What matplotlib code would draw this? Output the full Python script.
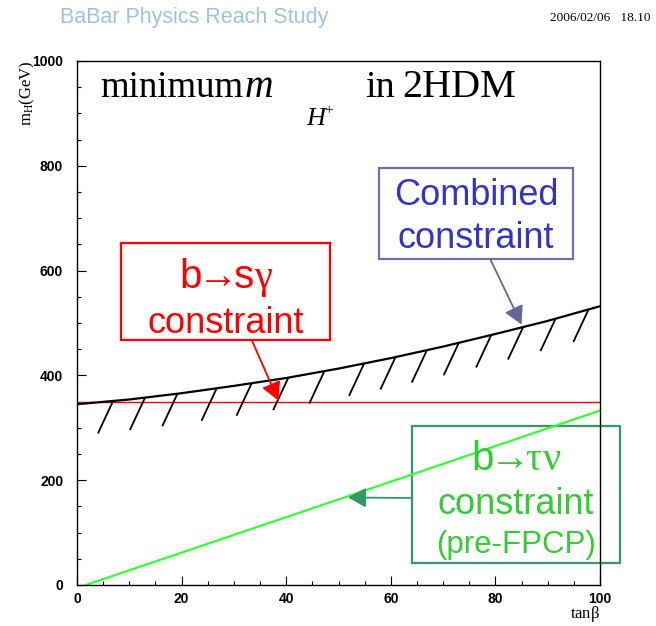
#!/usr/bin/env python3
"""Minimum charged Higgs mass in the 2HDM versus tan(beta)."""

import matplotlib

matplotlib.use("Agg")
import matplotlib.pyplot as plt
import numpy as np
from matplotlib.patches import Rectangle
from matplotlib.ticker import MultipleLocator

plt.rcParams["mathtext.fontset"] = "custom"
plt.rcParams["mathtext.rm"] = "Liberation Serif"
plt.rcParams["mathtext.it"] = "Liberation Serif:italic"
plt.rcParams["mathtext.bf"] = "Liberation Serif:bold"
plt.rcParams["mathtext.sf"] = "Liberation Sans"

# combined lower bound on m_H+ (GeV) vs tan(beta)
COMB_TANB = [0, 10, 20, 30, 40, 50, 60, 70, 80, 90, 100]
COMB_MH = [345, 354, 366, 380, 395, 413, 433, 455, 479, 504, 532]

# b -> s gamma bound (flat)
BSG_TANB = [0, 100]
BSG_MH = [350, 350]

# b -> tau nu bound
BTN_TANB = [1.7, 52, 100]
BTN_MH = [0, 170, 333]

# where the excluded-side hatch marks sit along the combined curve
HATCH_TANB = [6.9, 13.0, 19.2, 26.7, 33.4, 40.4, 47.3, 54.9, 60.9,
              66.9, 73.0, 79.2, 85.3, 91.5, 97.8]

XTICKS = [0, 20, 40, 60, 80, 100]
YTICKS = [0, 200, 400, 600, 800, 1000]

RED = "#ff0000"
BLUE_TXT = "#3333cc"
BLUE_BOX = "#7070a8"
BLUE_ARR = "#666699"
GREEN_TXT = "#33cc33"
GREEN_BOX = "#339966"
GREEN_LINE = "#33ff33"

SERIF = "Liberation Serif"
SANS = "Liberation Sans"

fig = plt.figure(figsize=(6.56, 6.26), dpi=100)
ax = fig.add_axes([0.1174, 0.0655, 0.7973, 0.8371])

ax.plot(BSG_TANB, BSG_MH, color=RED, lw=1.0)
ax.plot(BTN_TANB, BTN_MH, color=GREEN_LINE, lw=1.6)
ax.plot(COMB_TANB, COMB_MH, color="black", lw=1.6)

# short slanted strokes below the combined curve
hatch_top = np.interp(HATCH_TANB, COMB_TANB, COMB_MH)
for t, m in zip(HATCH_TANB, hatch_top):
    ax.plot([t, t - 2.9], [m, m - 62], color="black", lw=1.3,
            solid_capstyle="butt")

ax.set_xlim(0, 100)
ax.set_ylim(0, 1000)
ax.set_xticks(XTICKS)
ax.set_yticks(YTICKS)
ax.xaxis.set_minor_locator(MultipleLocator(5))
ax.yaxis.set_minor_locator(MultipleLocator(50))
ax.tick_params(which="both", direction="in", top=False, right=False, width=0.8)
ax.tick_params(which="major", length=6.5)
ax.tick_params(which="minor", length=3.2)
ax.tick_params(axis="x", pad=5)
ax.tick_params(axis="y", pad=10)
for lab in ax.get_xticklabels() + ax.get_yticklabels():
    lab.set_fontfamily(SANS)
    lab.set_fontweight("bold")
    lab.set_fontsize(10)
for sp in ax.spines.values():
    sp.set_linewidth(1.0)

# title, pieced together ROOT-latex style (m with a low H+ subscript)
title_y = 0.932
ax.text(0.044, title_y, "minimum", transform=ax.transAxes, fontfamily=SERIF,
        fontsize=26.5, va="baseline", ha="left")
ax.text(0.320, title_y, "m", transform=ax.transAxes, fontfamily=SERIF,
        fontstyle="italic", fontsize=28.5, va="baseline", ha="left")
ax.text(0.438, 0.877, "H", transform=ax.transAxes, fontfamily=SERIF,
        fontstyle="italic", fontsize=19, va="baseline", ha="left")
ax.text(0.481, 0.905, "+", transform=ax.transAxes, fontfamily=SERIF,
        fontsize=11, va="center", ha="center")
ax.text(0.5507, title_y, "in", transform=ax.transAxes, fontfamily=SERIF,
        fontsize=27.5, va="baseline", ha="left")
ax.text(0.621, title_y, "2HDM", transform=ax.transAxes, fontfamily=SERIF,
        fontsize=29, va="baseline", ha="left")

# annotation boxes
boxes = [
    ((0.084, 0.4676), 0.400, 0.1851, RED),
    ((0.577, 0.622), 0.371, 0.174, BLUE_BOX),
    ((0.6405, 0.042), 0.3975, 0.261, GREEN_BOX),
]
for xy, w, h, col in boxes:
    ax.add_patch(Rectangle(xy, w, h, transform=ax.transAxes, fill=False,
                           edgecolor=col, lw=1.6, clip_on=False))

ax.text(0.284, 0.567,
        r"$\mathsf{b}\!\!\rightarrow\!\!\mathsf{s}\mathrm{\gamma}$",
        transform=ax.transAxes, ha="center", va="baseline", fontsize=29, color=RED)
ax.text(0.284, 0.481, "constraint", transform=ax.transAxes, ha="center",
        va="baseline", fontsize=26, color=RED, fontfamily=SANS)

ax.text(0.763, 0.725, "Combined", transform=ax.transAxes, ha="center",
        va="baseline", fontsize=26, color=BLUE_TXT, fontfamily=SANS)
ax.text(0.763, 0.643, "constraint", transform=ax.transAxes, ha="center",
        va="baseline", fontsize=26, color=BLUE_TXT, fontfamily=SANS)

ax.text(0.839, 0.219, r"$\mathsf{b}\!\!\rightarrow\!\!\mathrm{\tau\nu}$",
        transform=ax.transAxes, ha="center", va="baseline", fontsize=29,
        color=GREEN_TXT, clip_on=False)
ax.text(0.839, 0.1355, "constraint", transform=ax.transAxes, ha="center",
        va="baseline", fontsize=26, color=GREEN_TXT, fontfamily=SANS,
        clip_on=False)
ax.text(0.839, 0.061, "(pre-FPCP)", transform=ax.transAxes, ha="center",
        va="baseline", fontsize=22.5, color=GREEN_TXT, fontfamily=SANS,
        clip_on=False)

# arrows from the boxes onto the curves
arrow_style = "-|>,head_length=0.55,head_width=0.3"
ax.annotate("", xy=(38.5, 352), xycoords="data",
            xytext=(0.334, 0.4676), textcoords="axes fraction",
            arrowprops=dict(arrowstyle=arrow_style, mutation_scale=20,
                            color=RED, lw=1.3, shrinkA=0, shrinkB=0))
ax.annotate("", xy=(85.0, 497), xycoords="data",
            xytext=(0.790, 0.622), textcoords="axes fraction",
            arrowprops=dict(arrowstyle=arrow_style, mutation_scale=20,
                            color=BLUE_ARR, lw=1.3, shrinkA=0, shrinkB=0))
ax.annotate("", xy=(51.8, 167), xycoords="data",
            xytext=(0.6405, 0.166), textcoords="axes fraction",
            arrowprops=dict(arrowstyle=arrow_style, mutation_scale=20,
                            color=GREEN_BOX, lw=1.3, shrinkA=0, shrinkB=0))

# axis titles, ROOT style
fig.text(27 / 656, 1 - 60 / 626, r"m$_{\mathrm{H}}$(GeV)", rotation=90,
         ha="center", va="top", fontfamily=SERIF, fontsize=12)
fig.text(600 / 656, 1 - 614 / 626, r"tan$\mathrm{\beta}$", ha="right",
         va="center", fontfamily=SERIF, fontsize=12)

# page header
fig.text(60 / 656, 1 - 18 / 626, "BaBar Physics Reach Study", ha="left",
         va="center", fontfamily=SANS, fontsize=15.5, color="#9dc3e0")
fig.text(650 / 656, 1 - 18 / 626, "2006/02/06   18.10", ha="right",
         va="center", fontfamily=SERIF, fontsize=9.5)

fig.savefig("out.png", dpi=100)
